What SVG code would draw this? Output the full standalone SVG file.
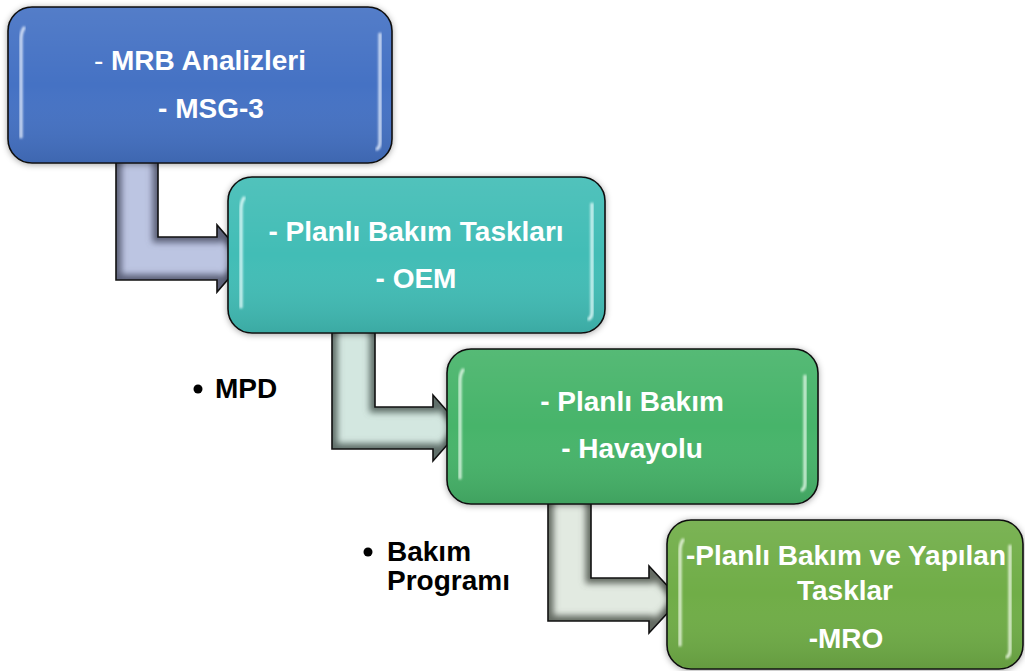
<svg xmlns="http://www.w3.org/2000/svg" width="1025" height="671" viewBox="0 0 1025 671">
  <defs>
    <style>
      .box { stroke: #111; stroke-width: 1.6; }
      .arrow-outline { fill: none; stroke: #111; stroke-width: 1.6; stroke-linejoin: miter; }
      .arrow-rim { fill: none; stroke-width: 11; stroke-linejoin: miter; filter: url(#rimBlur); }
      .label { font-family: "Liberation Sans", Arial, sans-serif; font-weight: bold; font-size: 28px; fill: #ffffff; text-anchor: middle; }
      .note { font-family: "Liberation Sans", Arial, sans-serif; font-weight: bold; font-size: 28px; fill: #000000; }
      .gloss { fill: none; stroke-width: 3.2; stroke-linecap: round; stroke-opacity: 0.9; filter: url(#soft); }
    </style>
    <filter id="halo" x="-10%" y="-10%" width="120%" height="120%">
      <feGaussianBlur in="SourceAlpha" stdDeviation="3"/>
      <feOffset dx="0" dy="1" result="s"/>
      <feFlood flood-color="#000" flood-opacity="0.35"/>
      <feComposite in2="s" operator="in" result="sh"/>
      <feMerge><feMergeNode in="sh"/><feMergeNode in="SourceGraphic"/></feMerge>
    </filter>
    <filter id="soft" x="-50%" y="-10%" width="200%" height="120%">
      <feGaussianBlur stdDeviation="0.8"/>
    </filter>
    <filter id="rimBlur" x="-10%" y="-10%" width="120%" height="120%">
      <feGaussianBlur stdDeviation="3"/>
    </filter>

    <!-- shapes of the bent arrows, reused for fill, rim shading and outline -->
    <path id="a1" d="M116,150 H158 V237 H217 V225 L246,258.5 L217,292 V280 H116 Z"/>
    <path id="a2" d="M332,320 H375 V407 H433 V395 L462,428 L433,461 V449 H332 Z"/>
    <path id="a3" d="M548,495 H591 V578 H649 V566 L680,599.5 L649,633 V621 H548 Z"/>
    <clipPath id="c1"><use href="#a1"/></clipPath>
    <clipPath id="c2"><use href="#a2"/></clipPath>
    <clipPath id="c3"><use href="#a3"/></clipPath>

    <linearGradient id="boxShade" x1="0" y1="0" x2="0" y2="1">
      <stop offset="0" stop-color="#fff" stop-opacity="0.08"/>
      <stop offset="0.5" stop-color="#fff" stop-opacity="0"/>
      <stop offset="1" stop-color="#000" stop-opacity="0.10"/>
    </linearGradient>
  </defs>

  <!-- bent arrows between the steps -->
  <g id="connectors">
    <g id="arrow1">
      <use href="#a1" fill="#bcc5e2"/>
      <g clip-path="url(#c1)"><use href="#a1" class="arrow-rim" stroke="#5b6178"/></g>
      <use href="#a1" class="arrow-outline"/>
    </g>
    <g id="arrow2">
      <use href="#a2" fill="#d3e7e0"/>
      <g clip-path="url(#c2)"><use href="#a2" class="arrow-rim" stroke="#5f6e69"/></g>
      <use href="#a2" class="arrow-outline"/>
    </g>
    <g id="arrow3">
      <use href="#a3" fill="#e2eae1"/>
      <g clip-path="url(#c3)"><use href="#a3" class="arrow-rim" stroke="#636b62"/></g>
      <use href="#a3" class="arrow-outline"/>
    </g>
  </g>

  <!-- step 1 -->
  <g id="node-mrb">
    <rect class="box" x="8" y="7" width="384" height="156" rx="24" fill="#4472c4" filter="url(#halo)"/>
    <rect x="9" y="8" width="382" height="154" rx="23" fill="url(#boxShade)"/>
    <path class="gloss" stroke="#dfe9fb" d="M24,28 Q21,32 21,40 V137"/>
    <path class="gloss" stroke="#dfe9fb" d="M380,34 V142 Q380,147 377,149"/>
    <text class="label" x="200" y="70"><tspan font-weight="normal">- </tspan>MRB Analizleri</text>
    <text class="label" x="211" y="118">- MSG-3</text>
  </g>

  <!-- step 2 -->
  <g id="node-oem">
    <rect class="box" x="228" y="177" width="377" height="156" rx="24" fill="#43bdb6" filter="url(#halo)"/>
    <rect x="229" y="178" width="375" height="154" rx="23" fill="url(#boxShade)"/>
    <path class="gloss" stroke="#e0fbf9" d="M244,198 Q241,202 241,210 V307"/>
    <path class="gloss" stroke="#e0fbf9" d="M592,204 V312 Q592,317 589,319"/>
    <text class="label" x="416" y="241">- Planlı Bakım Taskları</text>
    <text class="label" x="416" y="288">- OEM</text>
  </g>

  <!-- step 3 -->
  <g id="node-havayolu">
    <rect class="box" x="447" y="349" width="371" height="155" rx="24" fill="#47b46a" filter="url(#halo)"/>
    <rect x="448" y="350" width="369" height="153" rx="23" fill="url(#boxShade)"/>
    <path class="gloss" stroke="#e0f7e6" d="M463,370 Q460,374 460,382 V478"/>
    <path class="gloss" stroke="#e0f7e6" d="M805,376 V483 Q805,488 802,490"/>
    <text class="label" x="632" y="411">- Planlı Bakım</text>
    <text class="label" x="632" y="458">- Havayolu</text>
  </g>

  <!-- step 4 -->
  <g id="node-mro">
    <rect class="box" x="667" y="520" width="356" height="149" rx="24" fill="#70ad47" filter="url(#halo)"/>
    <rect x="668" y="521" width="354" height="147" rx="23" fill="url(#boxShade)"/>
    <path class="gloss" stroke="#eaf6e0" d="M683,540 Q680,544 680,552 V645"/>
    <path class="gloss" stroke="#eaf6e0" d="M1010,546 V650 Q1010,655 1007,657"/>
    <text class="label" x="846" y="565">-Planlı Bakım ve Yapılan</text>
    <text class="label" x="845" y="600">Tasklar</text>
    <text class="label" x="846" y="648">-MRO</text>
  </g>

  <!-- side notes -->
  <g id="note-mpd">
    <circle cx="198" cy="389" r="4.5" fill="#000"/>
    <text class="note" x="215" y="398">MPD</text>
  </g>
  <g id="note-program">
    <circle cx="368" cy="552" r="4.5" fill="#000"/>
    <text class="note" x="387" y="561">Bakım</text>
    <text class="note" x="387" y="590">Programı</text>
  </g>
</svg>
